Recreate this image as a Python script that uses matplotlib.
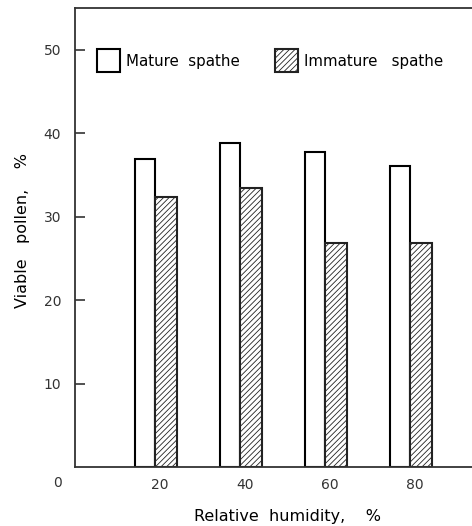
import matplotlib
matplotlib.use('Agg')
import matplotlib.pyplot as plt
import numpy as np

# Relativna vlaznost i procenat vijabilnog polena
humidity = [20, 40, 60, 80]
mature = [36.9, 38.8, 37.7, 36.1]
immature = [32.3, 33.4, 26.9, 26.9]

plt.rcParams['hatch.linewidth'] = 0.6
plt.rcParams['font.family'] = 'DejaVu Sans'

fig = plt.figure(figsize=(4.72, 5.26), dpi=100)
ax = fig.add_axes([75/472, 1 - 467/526, 425/472, 459/526])

x = np.array(humidity) - 1.2
ax.bar(x, mature, width=-4.8, align='edge', facecolor='white',
       edgecolor='black', linewidth=1.5, label='Mature  spathe')
ax.bar(x, immature, width=5.2, align='edge', facecolor='white',
       edgecolor='#222222', linewidth=1.5, hatch='//////', label='Immature   spathe')

ax.set_xlim(0, 100)
ax.set_ylim(0, 55)
ax.set_xticks([20, 40, 60, 80])
ax.set_yticks([10, 20, 30, 40, 50])
ax.tick_params(axis='x', length=0, pad=8, labelsize=10, labelcolor='#333333')
ax.tick_params(axis='y', direction='in', length=7, width=1.2, pad=10,
               labelsize=10, labelcolor='#333333', color='#333333')
for s in ax.spines.values():
    s.set_color('#333333')
    s.set_linewidth(1.3)

# zajednicka nula u uglu
ax.text(-4, -1.9, '0', ha='center', va='center', fontsize=10,
        color='#333333', clip_on=False)

ax.set_xlabel('Relative  humidity,    %', fontsize=11.5, labelpad=12)
ax.set_ylabel('Viable   pollen,    %', fontsize=11.5)
ax.yaxis.set_label_coords(-0.106, 0.516)

ax.legend(loc='center left', bbox_to_anchor=(0.052, 0.885), ncol=2, frameon=False,
          fontsize=10.8, handlelength=1.55, handleheight=1.95, handletextpad=0.4,
          columnspacing=2.3, borderpad=0, borderaxespad=0)

fig.savefig('out.png', dpi=100)
